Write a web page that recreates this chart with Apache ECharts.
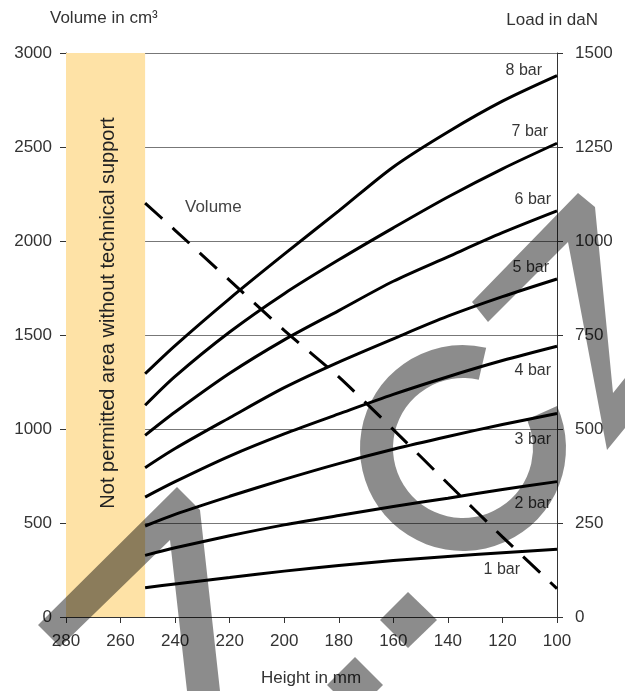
<!DOCTYPE html>
<html><head><meta charset="utf-8">
<script src="https://cdn.jsdelivr.net/npm/echarts@6/dist/echarts.min.js"></script>
<style>html,body{margin:0;padding:0;background:#fff}#c{width:625px;height:691px}</style>
</head><body><div id="c"></div>
<script>
// Heights (mm) at which curves were read
const heights = [251, 240, 220, 200, 180, 160, 140, 120, 100];
// Load in daN for each pressure
const bar1 = [78, 88, 105, 122, 137, 150, 161, 171, 180];
const bar2 = [164, 184, 216, 245, 270, 294, 316, 339, 360];
const bar3 = [242, 273, 321, 366, 408, 446, 480, 512, 541];
const bar4 = [319, 360, 428, 487, 540, 592, 639, 682, 720];
const bar5 = [397, 448, 530, 610, 678, 740, 800, 852, 899];
const bar6 = [483, 545, 648, 737, 815, 893, 958, 1022, 1080];
const bar7 = [563, 640, 758, 860, 950, 1035, 1117, 1192, 1260];
const bar8 = [647, 722, 847, 965, 1080, 1197, 1290, 1372, 1440];
// Volume in cm3
const volume = [2202, 2057, 1791, 1525, 1277, 997, 710, 426, 151];
const barNames = ['1 bar','2 bar','3 bar','4 bar','5 bar','6 bar','7 bar','8 bar'];
const bandRange = [280, 251];
const xTicks = [100, 280, 20];
const yLeftTicks = [0, 3000, 500];
const yRightTicks = [0, 1500, 250];

const loads = [bar1, bar2, bar3, bar4, bar5, bar6, bar7, bar8];
// label offsets (style)
const labelOff = [[-37, 20.5], [-6, 21.5], [-6, 26], [-6, 24], [-8, -11], [-6, -11.5], [-9, -12], [-15, -5]];

const FONT = 'Liberation Sans';
const TXT = '#333';
const chart = echarts.init(document.getElementById('c'), null, {renderer: 'canvas'});

const series = [];
loads.forEach((arr, i) => {
  series.push({
    type: 'line', yAxisIndex: 1, name: barNames[i],
    data: heights.map((h, k) => [h, arr[k]]),
    smooth: 0.3, symbol: 'none', silent: true,
    lineStyle: {color: '#000', width: 3}, z: 3
  });
});
series.push({
  type: 'line', yAxisIndex: 0, name: 'Volume',
  data: heights.map((h, k) => [h, volume[k]]),
  smooth: 0.2, symbol: 'none', silent: true,
  lineStyle: {color: '#000', width: 3, type: [23, 14]}, z: 3,
  markArea: {
    silent: true,
    itemStyle: {color: '#FEE2A6'},
    data: [[{xAxis: bandRange[0]}, {xAxis: bandRange[1]}]]
  }
});
series.push({
  type: 'scatter', yAxisIndex: 1, symbolSize: 0, silent: true, z: 4,
  itemStyle: {color: 'transparent'},
  data: loads.map((arr, i) => ({
    value: [heights[heights.length - 1], arr[arr.length - 1]],
    label: {show: true, formatter: barNames[i], position: labelOff[i], align: 'right', verticalAlign: 'middle',
      color: '#000', fontSize: 16, fontFamily: FONT}
  }))
});

const plain = v => String(v);
const wm = 'rgba(0,0,0,0.45)';
chart.setOption({
  animation: false,
  grid: {left: 66, right: 68, top: 53, bottom: 74},
  xAxis: {
    type: 'value', min: xTicks[0], max: xTicks[1], interval: xTicks[2], inverse: true,
    axisLine: {show: true, lineStyle: {color: '#333', width: 1}},
    axisTick: {show: true, length: 6, lineStyle: {color: '#333'}},
    axisLabel: {color: TXT, fontSize: 17, fontFamily: FONT, margin: 16, formatter: plain},
    splitLine: {show: false}
  },
  yAxis: [{
    type: 'value', min: yLeftTicks[0], max: yLeftTicks[1], interval: yLeftTicks[2], position: 'left',
    axisLine: {show: true, lineStyle: {color: '#333', width: 1}},
    axisTick: {show: true, length: 6, lineStyle: {color: '#333'}},
    axisLabel: {color: TXT, fontSize: 17, fontFamily: FONT, margin: 14, formatter: plain},
    splitLine: {show: true, lineStyle: {color: '#777', width: 1}}
  }, {
    type: 'value', min: yRightTicks[0], max: yRightTicks[1], interval: yRightTicks[2], position: 'right',
    axisLine: {show: true, lineStyle: {color: '#333', width: 1}},
    axisTick: {show: true, length: 6, lineStyle: {color: '#333'}},
    axisLabel: {color: TXT, fontSize: 17, fontFamily: FONT, margin: 18, formatter: plain},
    splitLine: {show: false}
  }],
  graphic: [
    {type: 'text', x: 50, y: 18, style: {text: 'Volume in cm³', fill: TXT, font: '17px ' + FONT, textVerticalAlign: 'middle'}},
    {type: 'text', x: 598, y: 20, style: {text: 'Load in daN', fill: TXT, font: '17px ' + FONT, textAlign: 'right', textVerticalAlign: 'middle'}},
    {type: 'text', x: 311, y: 678, style: {text: 'Height in mm', fill: TXT, font: '17px ' + FONT, textAlign: 'center', textVerticalAlign: 'middle'}},
    {type: 'text', x: 185, y: 207, style: {text: 'Volume', fill: '#444', font: '17px ' + FONT, textVerticalAlign: 'middle'}},
    {type: 'text', x: 108, y: 313, rotation: Math.PI / 2, z: 5,
      style: {text: 'Not permitted area without technical support', fill: '#222', font: '20px ' + FONT, textAlign: 'center', textVerticalAlign: 'middle'}},
    // watermark
    {type: 'polygon', z: 100, silent: true, shape: {points: [[177, 487], [200, 510], [220, 691], [187, 691], [170, 540], [60, 647], [38, 625]]}, style: {fill: wm}},
    {type: 'polygon', z: 100, silent: true, shape: {points: [[408, 592], [437, 620], [408, 648], [380, 620]]}, style: {fill: wm}},
    {type: 'polygon', z: 100, silent: true, shape: {points: [[355, 657], [383, 685], [355, 713], [327, 685]]}, style: {fill: wm}},
    {type: 'sector', z: 100, silent: true, shape: {cx: 463, cy: 448, r: 103, r0: 70, startAngle: -24 * Math.PI / 180, endAngle: 283 * Math.PI / 180, clockwise: true}, style: {fill: wm}},
    {type: 'polygon', z: 100, silent: true, shape: {points: [[488, 322], [568, 242], [607, 450], [625, 428], [625, 378], [613, 393], [595, 207], [578, 193], [472, 302]]}, style: {fill: wm}}
  ],
  series: series
});
</script></body></html>
